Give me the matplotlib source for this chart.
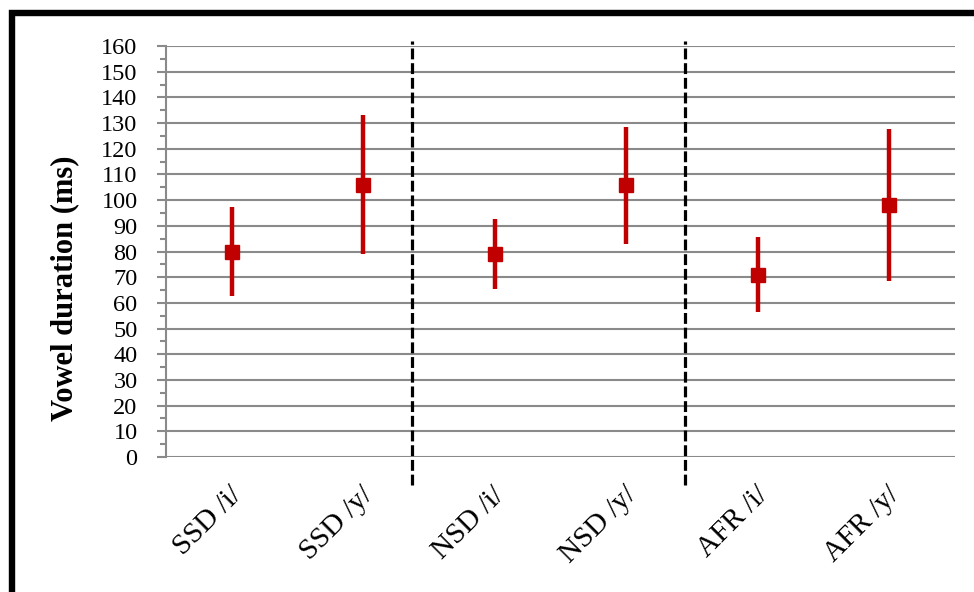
import numpy as np
import matplotlib
matplotlib.use("Agg")
import matplotlib.pyplot as plt
from matplotlib.patches import Rectangle
from matplotlib.transforms import ScaledTranslation

# vowel duration per group: mean and range ends (ms)
groups = ["SSD /i/", "SSD /y/", "NSD /i/", "NSD /y/", "AFR /i/", "AFR /y/"]
means = [80, 106, 79, 106, 71, 98]
upper = [97.5, 133, 92.5, 128.5, 85.5, 127.5]
lower = [62.5, 79, 65.5, 83, 56.5, 68.5]
separators = [1.37, 3.45]   # between the dialect blocks

plt.rcParams['font.family'] = ['Liberation Serif', 'DejaVu Serif']
red = '#C00000'
grey = '#8A8A8A'

fig = plt.figure(figsize=(9.74, 5.92), dpi=100)
ax = fig.add_axes([166/974, 1-457/592, (955-166)/974, (457-46)/592])

x = np.arange(len(groups))
m = np.array(means)
err = [m - np.array(lower), np.array(upper) - m]
ax.errorbar(x, m, yerr=err, fmt='s', color=red, ecolor=red, elinewidth=3.2,
            capsize=0, markersize=9.5, zorder=3)

for s in separators:
    ax.axvline(s, ymin=-0.068, ymax=1.013, color='black', lw=2.3,
               dashes=(3.4, 1.2), clip_on=False, zorder=4)

ax.set_xlim(-0.5, len(groups) - 0.5)
ax.set_ylim(0, 160)
ax.set_yticks(np.arange(0, 161, 10))
ax.set_yticks(np.arange(5, 160, 10), minor=True)
ax.yaxis.grid(True, color=grey, lw=1.5)
ax.set_axisbelow(True)
for side in ['top', 'right', 'bottom']:
    ax.spines[side].set_visible(False)
ax.spines['left'].set_color(grey)
ax.spines['left'].set_linewidth(1.5)
ax.tick_params(axis='y', which='major', length=6.5, width=1.5, color=grey,
               labelsize=17.5, pad=14)
ax.tick_params(axis='y', which='minor', length=4.3, width=1.5, color=grey)

ax.set_xticks(x)
ax.set_xticklabels(groups, rotation=45, ha='right', va='top',
                   rotation_mode='anchor', fontsize=21)
ax.tick_params(axis='x', length=0, pad=18)
shift = ScaledTranslation(-3/100, 0, fig.dpi_scale_trans)
for lab in ax.get_xticklabels():
    lab.set_transform(lab.get_transform() + shift)

ax.set_ylabel("Vowel duration (ms)", fontsize=22, fontweight='bold')
ax.yaxis.set_label_coords(-0.11, 0.41)

# frame around the chart area
top = 1 - 13/592
fig.patches.append(Rectangle((11.5/974, -0.2), 1.2, top + 0.2, fill=False,
                             edgecolor='black', lw=4.6, transform=fig.transFigure))

fig.savefig("out.png", dpi=100)
